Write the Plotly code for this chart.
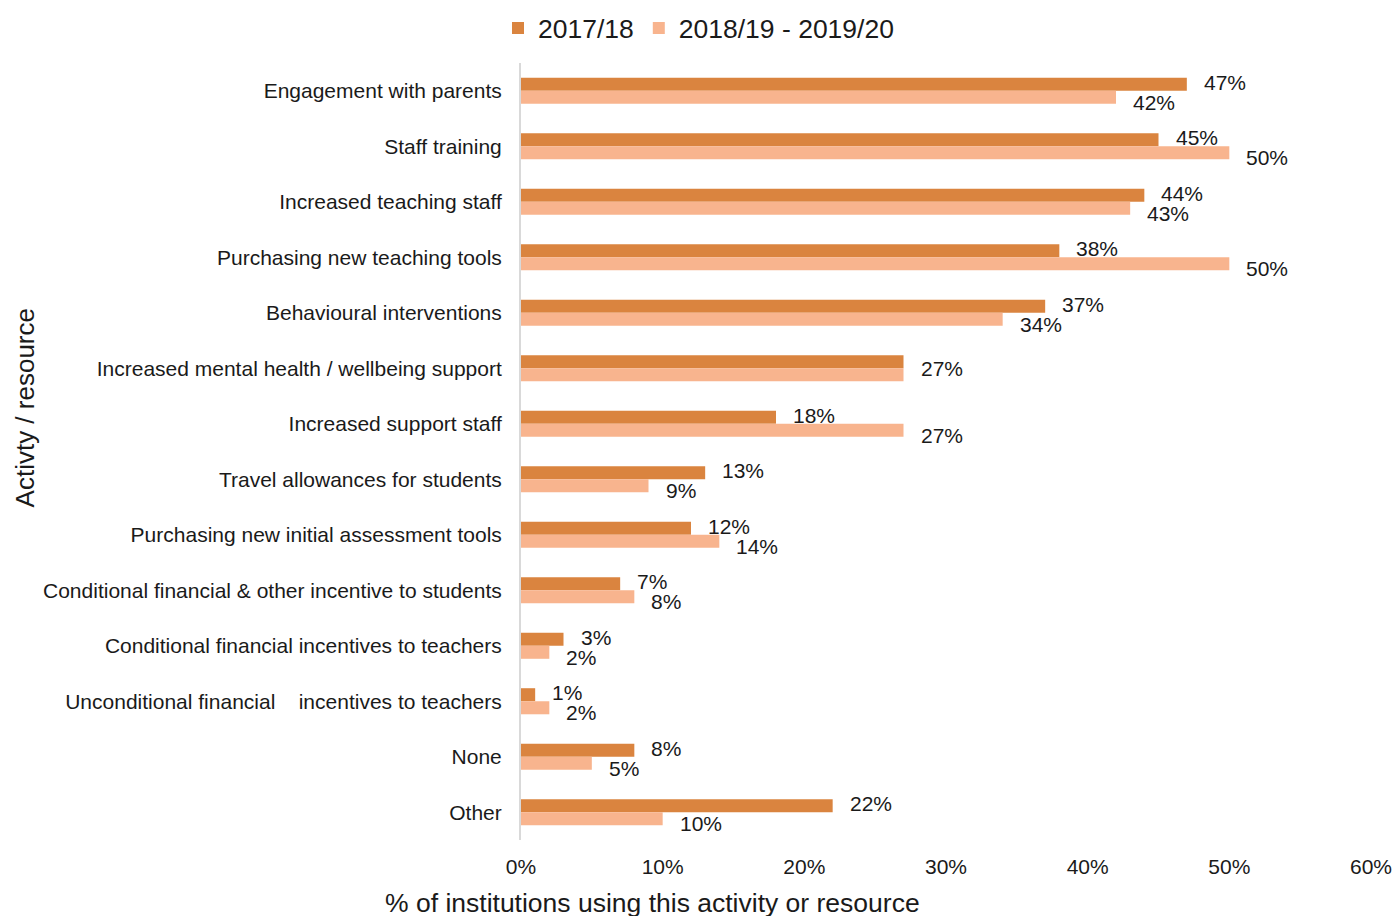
import plotly.graph_objects as go

categories = [
    "Engagement with parents",
    "Staff training",
    "Increased teaching staff",
    "Purchasing new teaching tools",
    "Behavioural interventions",
    "Increased mental health / wellbeing support",
    "Increased support staff",
    "Travel allowances for students",
    "Purchasing new initial assessment tools",
    "Conditional financial & other incentive to students",
    "Conditional financial incentives to teachers",
    "Unconditional financial\u00a0\u00a0\u00a0 incentives to teachers",
    "None",
    "Other",
]
series_names = ["2017/18", "2018/19 - 2019/20"]
values_2017_18 = [47, 45, 44, 38, 37, 27, 18, 13, 12, 7, 3, 1, 8, 22]
values_2018_20 = [42, 50, 43, 50, 34, 27, 27, 9, 14, 8, 2, 2, 5, 10]
colors = ["#DA843F", "#F8B48E"]

FONT = "Liberation Sans, Arial, sans-serif"
TEXT = "#1a1a1a"

fig = go.Figure()
for name, vals, col in zip(series_names, [values_2017_18, values_2018_20], colors):
    fig.add_trace(go.Bar(
        y=categories,
        x=[v / 100 for v in vals],
        name=name,
        orientation="h",
        marker=dict(color=col, line=dict(width=0)),
        hoverinfo="x+y",
    ))

# value labels beside each bar end; an equal pair shares a single label
annotations = []
for idx, (vals, other, ysh) in enumerate([(values_2017_18, values_2018_20, 8.5),
                                          (values_2018_20, values_2017_18, -11.5)]):
    for cat, v, o in zip(categories, vals, other):
        if v == o and idx == 1:
            continue
        annotations.append(dict(
            x=v / 100, y=cat, xref="x", yref="y",
            text=f"{v}%", showarrow=False,
            xanchor="left", yanchor="middle",
            xshift=15, yshift=0 if v == o else ysh,
            font=dict(family=FONT, size=21, color=TEXT),
        ))

# axis titles
annotations.append(dict(
    x=-0.583, y=0.556, xref="paper", yref="paper",
    text="Activty / resource", textangle=-90, showarrow=False,
    xanchor="center", yanchor="middle",
    font=dict(family=FONT, size=26, color=TEXT),
))
annotations.append(dict(
    x=0.155, y=-0.081, xref="paper", yref="paper",
    text="% of institutions using this activity or resource", showarrow=False,
    xanchor="center", yanchor="middle",
    font=dict(family=FONT, size=26.5, color=TEXT),
))

fig.update_layout(
    width=1397, height=916,
    margin=dict(l=521, r=26, t=63, b=76, autoexpand=False),
    paper_bgcolor="white", plot_bgcolor="white",
    barmode="group", bargap=0.53, bargroupgap=0,
    font=dict(family=FONT, size=21, color=TEXT),
    showlegend=True,
    legend=dict(
        orientation="h", xref="container", yref="container",
        x=0.5, y=0.969, xanchor="center", yanchor="middle",
        font=dict(family=FONT, size=26.5, color=TEXT),
        itemwidth=30, tracegroupgap=0,
    ),
    annotations=annotations,
)
fig.update_xaxes(
    range=[0, 0.6], dtick=0.1, tickformat=".0%",
    showgrid=False, zeroline=False, showline=False,
    ticks="", ticklabelstandoff=12, automargin=False,
    tickfont=dict(family=FONT, size=21, color=TEXT),
)
fig.update_yaxes(
    autorange="reversed", type="category",
    showgrid=False, zeroline=False,
    showline=True, linecolor="#D9D9D9", linewidth=2,
    ticks="", ticklabelstandoff=13, automargin=False,
    tickfont=dict(family=FONT, size=21, color=TEXT),
)

fig.write_html("out.html")
